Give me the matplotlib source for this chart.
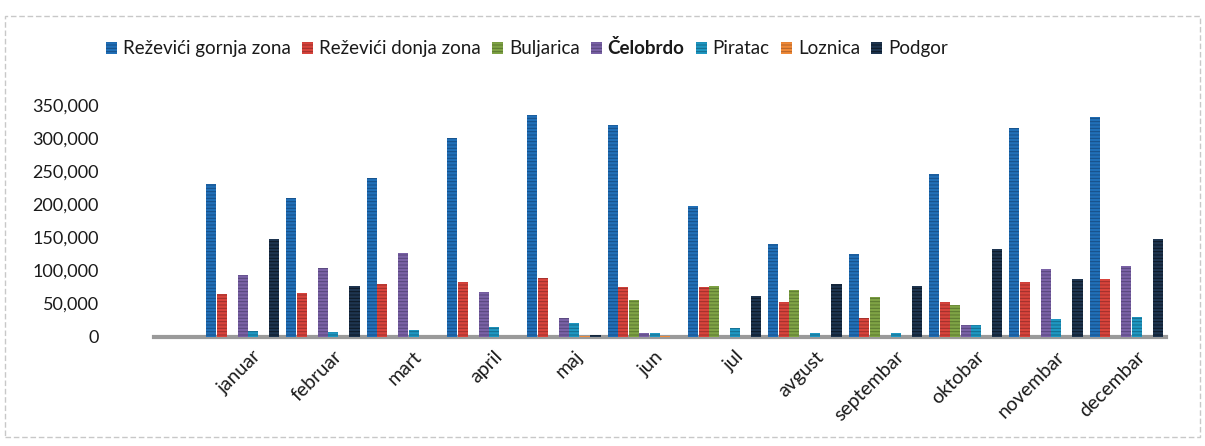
import matplotlib
matplotlib.use("Agg")
import matplotlib.pyplot as plt
import numpy as np
from matplotlib.patches import Rectangle
from matplotlib.ticker import FuncFormatter
from matplotlib.transforms import ScaledTranslation

plt.rcParams['font.family'] = ['Lato', 'DejaVu Sans']
plt.rcParams['hatch.linewidth'] = 0.7

months = ["januar", "februar", "mart", "april", "maj", "jun", "jul",
          "avgust", "septembar", "oktobar", "novembar", "decembar"]

series_names = ["Reževići gornja zona", "Reževići donja zona", "Buljarica",
                "Čelobrdo", "Piratac", "Loznica", "Podgor"]

rezevici_gornja = [230000, 210000, 240000, 300000, 335000, 320000,
                   197000, 140000, 125000, 245000, 315000, 332000]
rezevici_donja = [65000, 66000, 79000, 83000, 88000, 75000,
                  75000, 52000, 28000, 52000, 83000, 87000]
buljarica = [0, 0, 0, 0, 0, 55000, 77000, 70000, 60000, 48000, 0, 0]
celobrdo = [93000, 103000, 127000, 68000, 28000, 5000,
            0, 0, 0, 18000, 102000, 106000]
piratac = [8000, 7000, 10000, 15000, 20000, 5000,
           13000, 6000, 5000, 18000, 27000, 30000]
loznica = [0, 0, 0, 0, 1500, 1500, 0, 0, 0, 0, 0, 0]
podgor = [148000, 77000, 0, 0, 2000, 0, 62000, 80000, 77000, 132000, 87000, 148000]

values = [rezevici_gornja, rezevici_donja, buljarica, celobrdo,
          piratac, loznica, podgor]
colors = ["#2170b8", "#d8443c", "#7fa345", "#7a62a6", "#1f97c2", "#f08a38", "#1e3550"]
stripes = ["#174f85", "#9c2f2a", "#5a7630", "#56457a", "#156b8a", "#b0622a", "#0c1724"]

fig = plt.figure(figsize=(12.05, 4.46), dpi=100)
ax = fig.add_axes([0.128, 0.245, 0.840, 0.52])

x = np.arange(len(months))
step = 0.131
width = 0.125
for i, (name, vals, c, sc) in enumerate(zip(series_names, values, colors, stripes)):
    offs = (i - 3) * step
    ax.bar(x + offs, vals, width=width, color=c, edgecolor=sc, linewidth=0,
           hatch='-----', label=name, zorder=3)

ax.set_ylim(0, 350000)
ax.set_xlim(-1.1, 11.5)
ax.set_yticks(np.arange(0, 350001, 50000))
ax.yaxis.set_major_formatter(FuncFormatter(lambda v, p: f"{int(v):,}"))
ax.tick_params(axis='y', length=0, labelsize=13, colors='#1a1a1a', pad=40)
ax.set_xticks(x)
ax.set_xticklabels(months, rotation=45, ha='right', rotation_mode='anchor',
                   fontsize=14, color='#1a1a1a')
ax.tick_params(axis='x', length=0, pad=8)
shift = ScaledTranslation(10 / 100, 0, fig.dpi_scale_trans)
for lbl in ax.get_xticklabels():
    lbl.set_transform(lbl.get_transform() + shift)
for s in ['top', 'right', 'left']:
    ax.spines[s].set_visible(False)
ax.spines['bottom'].set_color('#9a9a9a')
ax.spines['bottom'].set_linewidth(3)
ax.spines['bottom'].set_zorder(2)

leg = fig.legend(loc='upper left', bbox_to_anchor=(0.074, 0.95), ncol=7,
                 frameon=False, fontsize=13.5, handlelength=0.6, handleheight=0.6,
                 handletextpad=0.3, columnspacing=0.6)
for t in leg.get_texts():
    t.set_color('#1a1a1a')
    if t.get_text() == "Čelobrdo":
        t.set_fontweight('bold')

fig.patches.append(Rectangle((0.004, 0.02), 0.992, 0.945, transform=fig.transFigure,
                             fill=False, edgecolor='#c8c8c8', linewidth=1.0,
                             linestyle=(0, (4, 2))))

fig.savefig("out.png", dpi=100, facecolor='white')
